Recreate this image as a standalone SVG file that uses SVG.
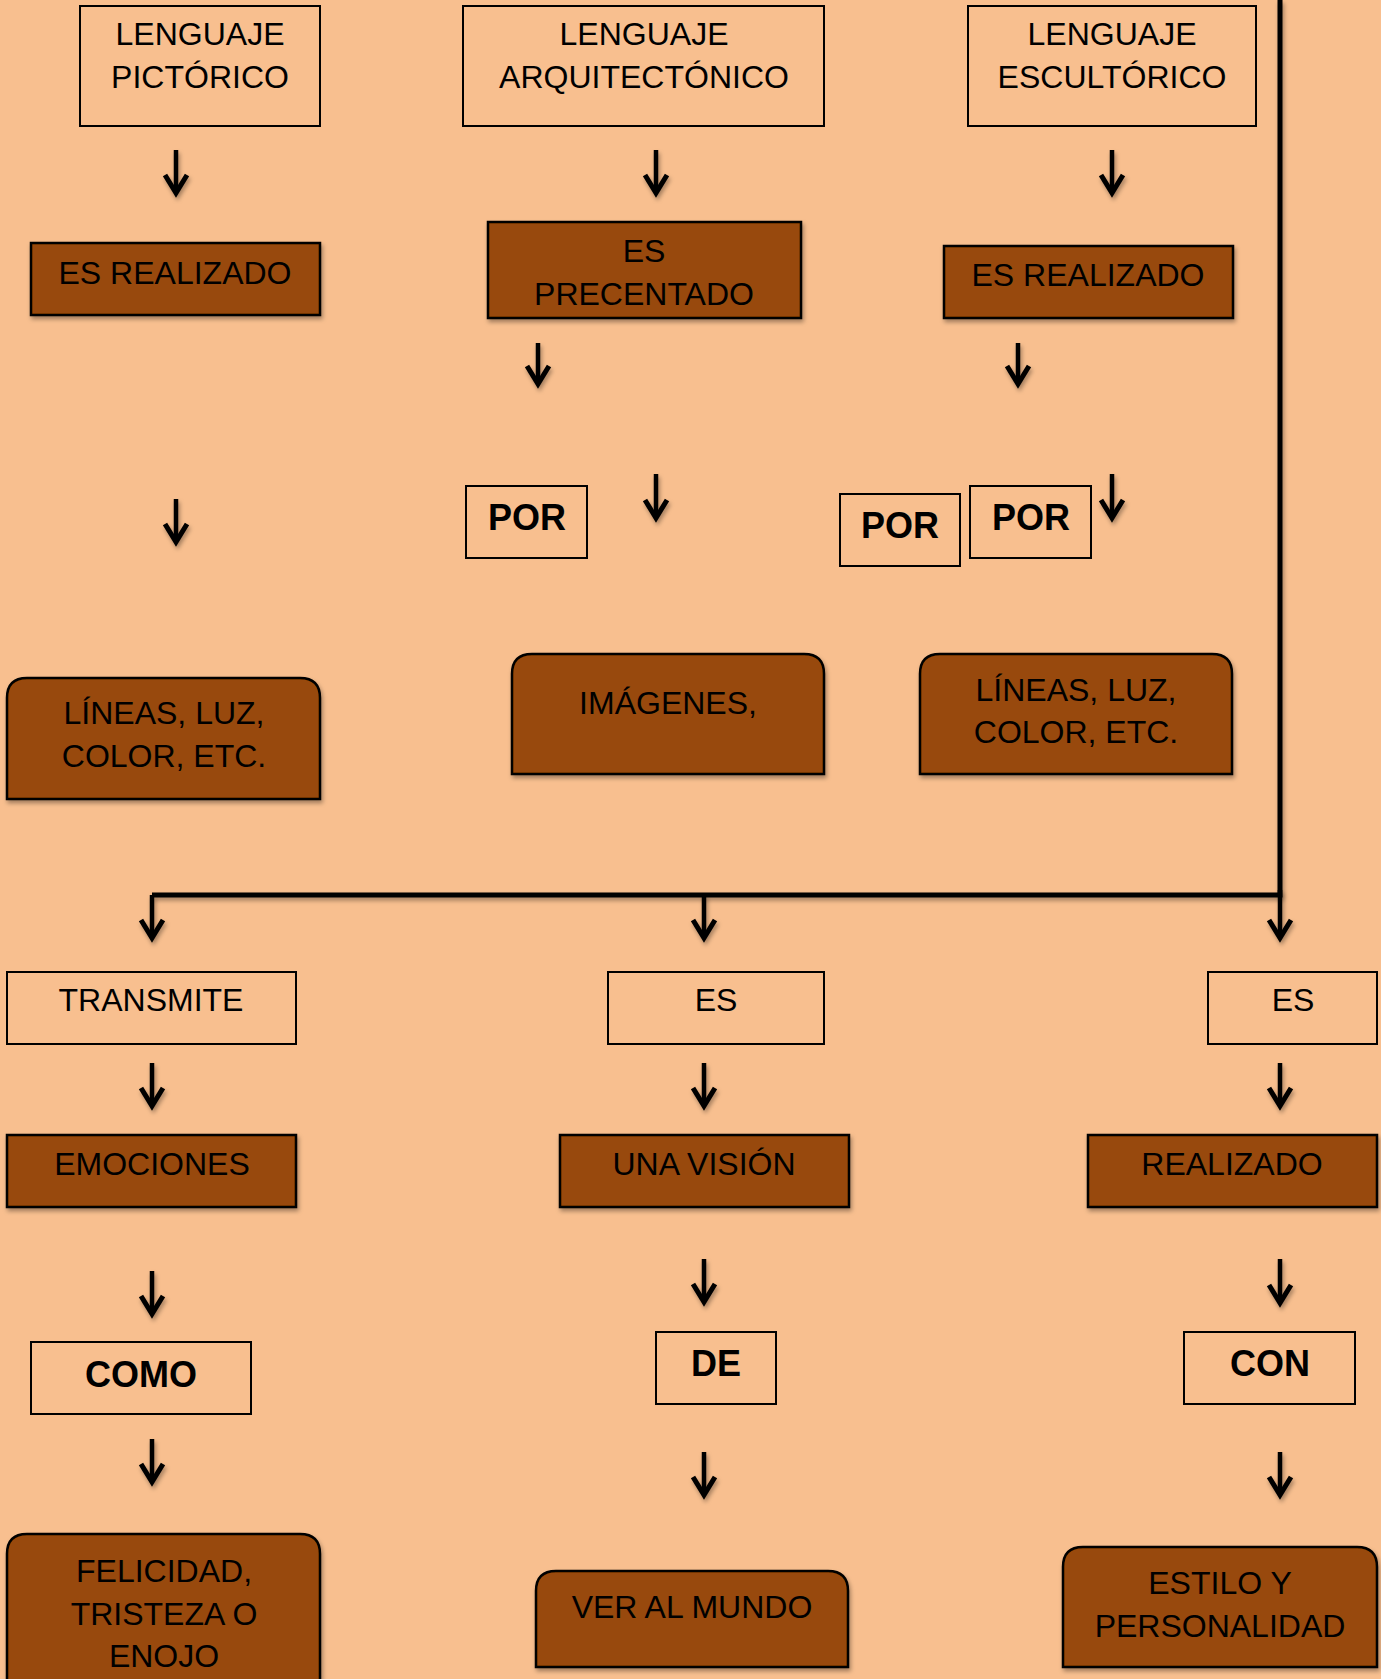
<svg xmlns="http://www.w3.org/2000/svg" width="1381" height="1679" viewBox="0 0 1381 1679">
<style>
.t{font-family:"Liberation Sans",Arial,sans-serif;font-size:32px;fill:#000;text-anchor:middle}
.b{font-family:"Liberation Sans",Arial,sans-serif;font-size:36px;font-weight:bold;fill:#000;text-anchor:middle}
.box{fill:none;stroke:#000;stroke-width:2}
.br{fill:#984807;stroke:#000;stroke-width:2.5;filter:url(#sh)}
.ar{fill:none;stroke:#000;stroke-width:4.5;marker-end:url(#ah);filter:url(#sh)}
.thick{fill:none;stroke:#000;stroke-width:5;filter:url(#sh)}
</style>
<defs>
<filter id="sh" filterUnits="userSpaceOnUse" x="-20" y="-20" width="1421" height="1740">
<feDropShadow dx="1.5" dy="3" stdDeviation="2" flood-color="#000" flood-opacity="0.35"/>
</filter>
<marker id="ah" markerUnits="userSpaceOnUse" viewBox="-22 -14 28 28" refX="0" refY="0" markerWidth="28" markerHeight="28" orient="auto">
<path d="M-18,-11 L0,0 L-18,11" fill="none" stroke="#000" stroke-width="5"/>
</marker>
</defs>
<rect x="0" y="0" width="1381" height="1679" fill="#F8BF8F"/>

<g id="connectors">
<path class="thick" d="M1280,0 V895 H152"/>
<path class="ar" d="M152,895 V938"/>
<path class="ar" d="M704,895 V938"/>
<path class="ar" d="M1280,890 V938"/>
<path class="ar" d="M176,150 V193"/>
<path class="ar" d="M656,150 V193"/>
<path class="ar" d="M1112,150 V193"/>
<path class="ar" d="M538,343 V384"/>
<path class="ar" d="M1018,343 V384"/>
<path class="ar" d="M176,499 V542"/>
<path class="ar" d="M656,474 V518"/>
<path class="ar" d="M1112,474 V518"/>
<path class="ar" d="M152,1063 V1106"/>
<path class="ar" d="M704,1063 V1106"/>
<path class="ar" d="M1280,1063 V1106"/>
<path class="ar" d="M152,1271 V1314"/>
<path class="ar" d="M704,1259 V1302"/>
<path class="ar" d="M1280,1259 V1303"/>
<path class="ar" d="M152,1439 V1482"/>
<path class="ar" d="M704,1452 V1495"/>
<path class="ar" d="M1280,1452 V1495"/>
</g>

<g id="lenguaje-pictorico">
<rect class="box" x="80" y="6" width="240" height="120"/>
<text class="t" x="200" y="45">LENGUAJE</text>
<text class="t" x="200" y="88">PICTÓRICO</text>
</g>
<g id="lenguaje-arquitectonico">
<rect class="box" x="463" y="6" width="361" height="120"/>
<text class="t" x="644" y="45">LENGUAJE</text>
<text class="t" x="644" y="88">ARQUITECTÓNICO</text>
</g>
<g id="lenguaje-escultorico">
<rect class="box" x="968" y="6" width="288" height="120"/>
<text class="t" x="1112" y="45">LENGUAJE</text>
<text class="t" x="1112" y="88">ESCULTÓRICO</text>
</g>

<g id="es-realizado-1">
<rect class="br" x="31" y="243" width="289" height="72"/>
<text class="t" x="175" y="284">ES REALIZADO</text>
</g>
<g id="es-precentado">
<rect class="br" x="488" y="222" width="313" height="96"/>
<text class="t" x="644" y="262">ES</text>
<text class="t" x="644" y="305">PRECENTADO</text>
</g>
<g id="es-realizado-2">
<rect class="br" x="944" y="246" width="289" height="72"/>
<text class="t" x="1088" y="286">ES REALIZADO</text>
</g>

<g id="por-1">
<rect class="box" x="466" y="486" width="121" height="72"/>
<text class="b" x="527" y="530">POR</text>
</g>
<g id="por-2">
<rect class="box" x="840" y="494" width="120" height="72"/>
<text class="b" x="900" y="538">POR</text>
</g>
<g id="por-3">
<rect class="box" x="970" y="486" width="121" height="72"/>
<text class="b" x="1031" y="530">POR</text>
</g>

<g id="lineas-1">
<path class="br" d="M7,799 V698 Q7,678 27,678 H300 Q320,678 320,698 V799 Z"/>
<text class="t" x="164" y="724">LÍNEAS, LUZ,</text>
<text class="t" x="164" y="767">COLOR, ETC.</text>
</g>
<g id="imagenes">
<path class="br" d="M512,774 V674 Q512,654 532,654 H804 Q824,654 824,674 V774 Z"/>
<text class="t" x="668" y="714">IMÁGENES,</text>
</g>
<g id="lineas-2">
<path class="br" d="M920,774 V674 Q920,654 940,654 H1212 Q1232,654 1232,674 V774 Z"/>
<text class="t" x="1076" y="701">LÍNEAS, LUZ,</text>
<text class="t" x="1076" y="743">COLOR, ETC.</text>
</g>

<g id="transmite">
<rect class="box" x="7" y="972" width="289" height="72"/>
<text class="t" x="151" y="1011">TRANSMITE</text>
</g>
<g id="es-mid">
<rect class="box" x="608" y="972" width="216" height="72"/>
<text class="t" x="716" y="1011">ES</text>
</g>
<g id="es-right">
<rect class="box" x="1208" y="972" width="169" height="72"/>
<text class="t" x="1293" y="1011">ES</text>
</g>

<g id="emociones">
<rect class="br" x="7" y="1135" width="289" height="72"/>
<text class="t" x="152" y="1175">EMOCIONES</text>
</g>
<g id="una-vision">
<rect class="br" x="560" y="1135" width="289" height="72"/>
<text class="t" x="704" y="1175">UNA VISIÓN</text>
</g>
<g id="realizado">
<rect class="br" x="1088" y="1135" width="289" height="72"/>
<text class="t" x="1232" y="1175">REALIZADO</text>
</g>

<g id="como">
<rect class="box" x="31" y="1342" width="220" height="72"/>
<text class="b" x="141" y="1387">COMO</text>
</g>
<g id="de">
<rect class="box" x="656" y="1332" width="120" height="72"/>
<text class="b" x="716" y="1376">DE</text>
</g>
<g id="con">
<rect class="box" x="1184" y="1332" width="171" height="72"/>
<text class="b" x="1270" y="1376">CON</text>
</g>

<g id="felicidad">
<path class="br" d="M7,1700 V1554 Q7,1534 27,1534 H300 Q320,1534 320,1554 V1700 Z"/>
<text class="t" x="164" y="1582">FELICIDAD,</text>
<text class="t" x="164" y="1625">TRISTEZA O</text>
<text class="t" x="164" y="1667">ENOJO</text>
</g>
<g id="ver-al-mundo">
<path class="br" d="M536,1667 V1591 Q536,1571 556,1571 H828 Q848,1571 848,1591 V1667 Z"/>
<text class="t" x="692" y="1618">VER AL MUNDO</text>
</g>
<g id="estilo">
<path class="br" d="M1063,1667 V1567 Q1063,1547 1083,1547 H1357 Q1377,1547 1377,1567 V1667 Z"/>
<text class="t" x="1220" y="1594">ESTILO Y</text>
<text class="t" x="1220" y="1637">PERSONALIDAD</text>
</g>
</svg>
